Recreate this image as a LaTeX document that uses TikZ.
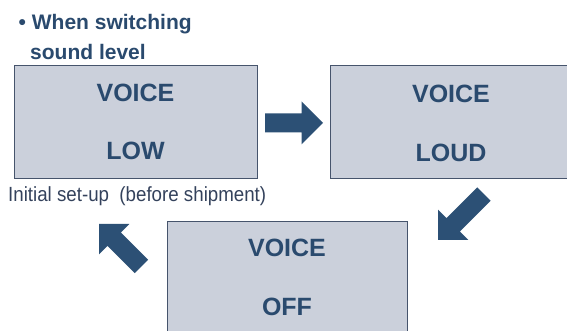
\documentclass[tikz,border=0pt]{standalone}
\usepackage{fontspec}
\setmainfont{Liberation Sans}
\definecolor{txtblue}{RGB}{42,74,110}
\definecolor{arrowblue}{RGB}{44,80,117}
\definecolor{boxfill}{RGB}{203,208,219}
\definecolor{boxline}{RGB}{70,84,108}
\definecolor{notegray}{RGB}{52,66,92}
\begin{document}
\begin{tikzpicture}[x=1pt,y=1pt,
  box/.style={draw=boxline, line width=0.9pt, fill=boxfill, inner sep=0pt, minimum width=#1, minimum height=113pt},
  big/.style={font=\fontsize{25}{25}\selectfont\bfseries, text=txtblue, inner sep=0pt},
  title/.style={font=\fontsize{21}{21}\selectfont\bfseries, text=txtblue, inner sep=0pt, anchor=base west},
  note/.style={font=\fontsize{20.5}{20.5}\selectfont, text=notegray, inner sep=0pt, anchor=base west},
  pics/blockarr/.style={code={\fill[arrowblue] (0,0) -- (-21.5,21.5) -- (-21.5,9.5) -- (-#1,9.5) -- (-#1,-9.5) -- (-21.5,-9.5) -- (-21.5,-21.5) -- cycle;}}
]
\clip (0,0) rectangle (567,331);
\fill[white] (0,0) rectangle (567,331);
% title
\node[title] (t1) at (18.5,301.5) {• When switching};
\node[title] (t2) at (30,271.5) {sound level};
% boxes
\node[box=243pt] (b1) at (135.5,209) {};
\node[box=242pt] (b2) at (451,209) {};
\node[box=240pt] (b3) at (287,53) {};
% box texts
\node[big] (v1) at (135.5,238) {VOICE};
\node[big] (l1) at (135.5,180) {LOW};
\node[big] (v2) at (451,237) {VOICE};
\node[big] (l2) at (451,178.5) {LOUD};
\node[big] (v3) at (287,83) {VOICE};
\node[big] (l3) at (287,24) {OFF};
% note
\node[note] (n1) at (8,129.5) {\scalebox{0.913}[1]{Initial set-up\ \ (before shipment)}};
% arrows
\coordinate (a1) at (323,208);
\coordinate (a2) at (438,91);
\coordinate (a3) at (99,107);
\pic[rotate=0] at (a1) {blockarr=58};
\pic[rotate=225] at (a2) {blockarr=65};
\pic[rotate=135] at (a3) {blockarr=60};
\end{tikzpicture}
\end{document}
